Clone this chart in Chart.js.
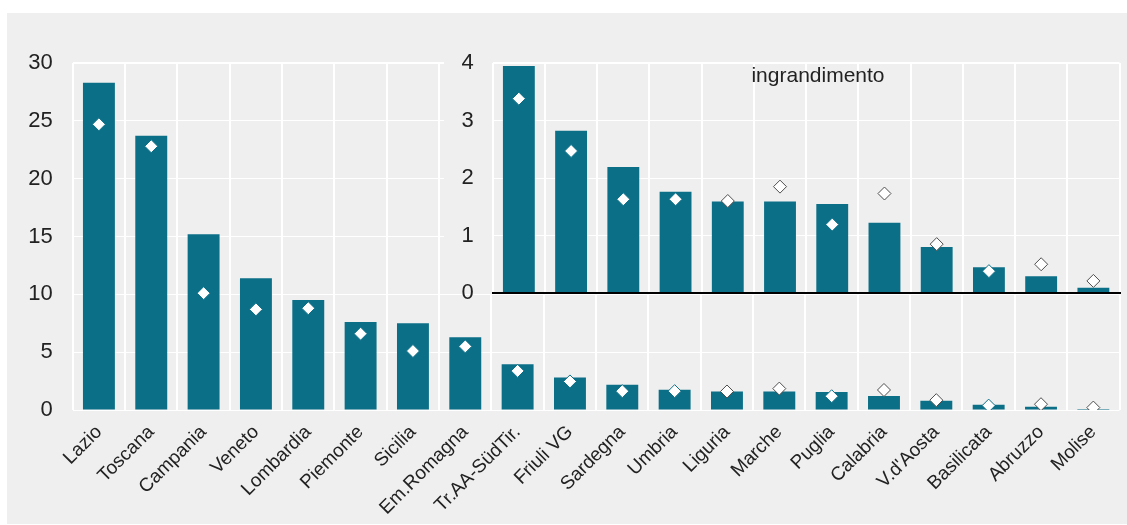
<!DOCTYPE html>
<html>
<head>
<meta charset="utf-8">
<script src="https://cdn.jsdelivr.net/npm/chart.js@4.4.1/dist/chart.umd.min.js"></script>
<style>
  body { margin: 0; background: #fff; }
  #wrap { position: relative; width: 1127px; height: 525px; overflow: hidden; }
  #panel { position: absolute; left: 7px; top: 13px; width: 1120px; height: 511px; background: #efefef; }
  #main { position: absolute; left: 0; top: 0; }
  /* the inset hides the main grid only in its own upper part */
  #zoom { position: absolute; left: 444px; top: 40px;
          background: linear-gradient(#efefef, #efefef) no-repeat; background-size: 100% 254px; }
  #note { position: absolute; left: 718px; top: 63px; width: 200px; text-align: center;
          font: 21px 'Liberation Sans', Arial, sans-serif; color: #222; }
</style>
</head>
<body>
<div id="wrap">
  <div id="panel"></div>
  <canvas id="main" width="1127" height="525"></canvas>
  <canvas id="zoom" width="683" height="270"></canvas>
  <div id="note">ingrandimento</div>
</div>
<script>
// regioni, ordinate per valore
var regions = ['Lazio', 'Toscana', 'Campania', 'Veneto', 'Lombardia', 'Piemonte', 'Sicilia', 'Em.Romagna',
  'Tr.AA-SüdTir.', 'Friuli VG', 'Sardegna', 'Umbria', 'Liguria', 'Marche', 'Puglia', 'Calabria',
  "V.d'Aosta", 'Basilicata', 'Abruzzo', 'Molise'];
var barValues = [28.3, 23.7, 15.2, 11.4, 9.5, 7.6, 7.5, 6.3,
  3.95, 2.82, 2.19, 1.76, 1.59, 1.59, 1.55, 1.22, 0.80, 0.45, 0.29, 0.09];
var diamondValues = [24.7, 22.8, 10.1, 8.7, 8.8, 6.6, 5.1, 5.5,
  3.38, 2.47, 1.63, 1.63, 1.60, 1.85, 1.19, 1.73, 0.85, 0.38, 0.50, 0.21];
var insetFrom = 8;          // first region shown in the "ingrandimento" panel
var mainTicks = [0, 30, 5]; // min, max, step
var insetTicks = [0, 4, 1];

var FONT = "'Liberation Sans', Arial, sans-serif";
var barColor = '#0b6f87';
Chart.defaults.font.family = FONT;
Chart.defaults.color = '#222';

function diamondBorder(offset) {
  return function(c) {
    return c.raw > barValues[c.dataIndex + offset] ? '#4d4d4d' : barColor;
  };
}

// main chart
var ctx = document.getElementById('main').getContext('2d');
var mainChart = new Chart(ctx, {
  type: 'bar',
  data: {
    labels: regions,
    datasets: [{
      type: 'line',
      data: diamondValues,
      showLine: false,
      pointStyle: 'rectRot',
      pointRadius: 6.5,
      pointBackgroundColor: '#fff',
      pointBorderColor: diamondBorder(0),
      pointBorderWidth: 1,
      order: 0
    }, {
      data: barValues,
      backgroundColor: barColor,
      categoryPercentage: 1,
      barPercentage: 0.61,
      order: 1
    }]
  },
  options: {
    responsive: false,
    animation: false,
    layout: { padding: { top: 63, right: 4, left: 0, bottom: 0 } },
    plugins: { legend: { display: false }, tooltip: { enabled: false } },
    scales: {
      x: {
        grid: { color: '#fff', lineWidth: 2, drawTicks: false },
        border: { display: false },
        ticks: { font: { size: 19 }, minRotation: 45, maxRotation: 45, padding: 11 },
        afterFit: function(s) { s.height = 115; }
      },
      y: {
        min: mainTicks[0], max: mainTicks[1],
        grid: { color: '#fff', lineWidth: function(c) { return c.tick.value === mainTicks[1] ? 2 : 1; }, drawTicks: false },
        border: { display: false },
        ticks: { stepSize: mainTicks[2], font: { size: 22 }, padding: 20 },
        afterFit: function(s) { s.width = 72.75; }
      }
    }
  }
});

// inset chart (ingrandimento)
var ctx2 = document.getElementById('zoom').getContext('2d');
var insetChart = new Chart(ctx2, {
  type: 'bar',
  data: {
    labels: regions.slice(insetFrom),
    datasets: [{
      type: 'line',
      data: diamondValues.slice(insetFrom),
      showLine: false,
      pointStyle: 'rectRot',
      pointRadius: 6.5,
      pointBackgroundColor: '#fff',
      pointBorderColor: diamondBorder(insetFrom),
      pointBorderWidth: 1,
      order: 0
    }, {
      data: barValues.slice(insetFrom),
      backgroundColor: barColor,
      categoryPercentage: 1,
      barPercentage: 0.61,
      order: 1
    }]
  },
  options: {
    responsive: false,
    animation: false,
    layout: { padding: { top: 23, right: 4.25, left: 0, bottom: 17 } },
    plugins: { legend: { display: false }, tooltip: { enabled: false } },
    scales: {
      x: {
        grid: { color: '#fff', lineWidth: 2, drawTicks: false },
        border: { display: true, color: '#000', width: 2, z: 1 },
        ticks: { display: false },
        afterFit: function(s) { s.height = 0; }
      },
      y: {
        min: insetTicks[0], max: insetTicks[1],
        grid: {
          color: '#fff', tickColor: 'rgba(0,0,0,0)', tickLength: 19,
          lineWidth: function(c) { return c.tick.value === insetTicks[1] ? 2 : 1; }
        },
        border: { display: false },
        ticks: { stepSize: insetTicks[2], font: { size: 22 }, padding: 0 },
        afterFit: function(s) { s.width = 48.75; }
      }
    }
  }
});
</script>
</body>
</html>
